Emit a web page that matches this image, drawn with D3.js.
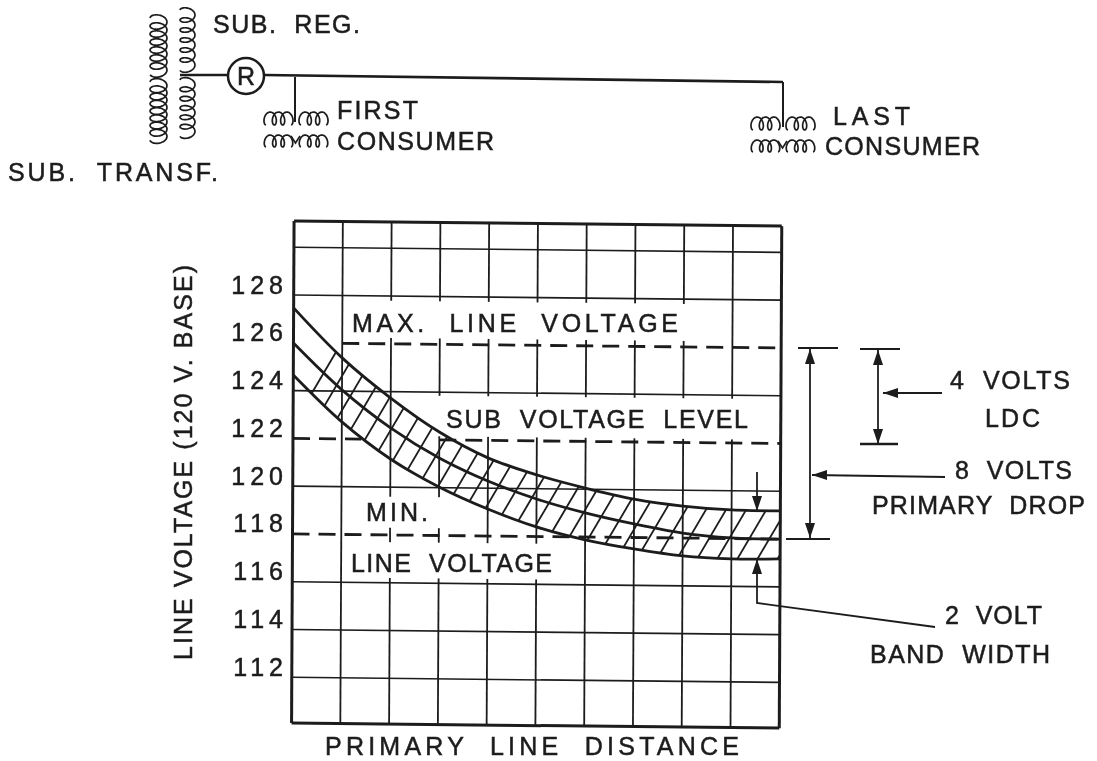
<!DOCTYPE html>
<html>
<head>
<meta charset="utf-8">
<script src="https://cdn.jsdelivr.net/npm/d3@7"></script>
<style>
  html, body { margin: 0; background: #fff; }
  svg text { font-family: "Liberation Sans", Arial, sans-serif; fill: #1c1c1c; stroke: #1c1c1c; stroke-width: 0.5; font-size: 25px; white-space: pre; }
</style>
</head>
<body>
<svg width="1097" height="761"></svg>
<script>
// Data
var distances = [0, 1, 2, 3, 4, 5, 6, 7, 8, 9, 10];
var upperBand = [127.46, 125.39, 123.73, 122.33, 121.27, 120.58, 120.05, 119.61, 119.34, 119.2, 119.18];
var subLevel = [125.99, 124.05, 122.48, 121.24, 120.3, 119.57, 119.01, 118.57, 118.21, 118.03, 118.0];
var lowerBand = [124.65, 122.71, 121.18, 120.03, 119.13, 118.4, 117.88, 117.52, 117.25, 117.15, 117.17];
var voltTicks = [128, 126, 124, 122, 120, 118, 116, 114, 112];
var solidLines = [130, 128, 124, 120, 116, 114, 112];
// volts, from distance, to distance
var dashedLines = [[126, 1, 10], [122, 0, 1.4], [122, 3, 10], [118, 0, 10]];
// the grid is left out behind the lettering: from, to, top volts, bottom volts
var labelGaps = [[1.1, 8.1, 127.8, 126.25], [2.95, 9.6, 123.85, 122.15], [1.5, 3.1, 119.6, 118.3], [1.15, 5.4, 117.7, 116.2]];

var ink = "#1c1c1c";
var svg = d3.select("svg");

// soft edge of the scan
svg.append("filter").attr("id", "soft")
  .append("feGaussianBlur").attr("stdDeviation", 0.45);
var page = svg.append("g").attr("filter", "url(#soft)");

var x = d3.scaleLinear().domain([0, 10]).range([293.7, 781.4]);
var y = d3.scaleLinear().domain([112, 128]).range([677.3, 295]);
var yTop = y.invert(221), yBottom = y.invert(723);

// The scan is slightly crooked, so the plot is sheared with it
var tiltX = -0.005, tiltY = 0.0105;
var plot = page.append("g")
  .attr("transform", "matrix(1," + tiltY + "," + tiltX + ",1," + (-tiltX * 295) + "," + (-tiltY * 293.7) + ")");

function hLine(g, v, width) {
  g.append("line")
    .attr("x1", x(0)).attr("x2", x(10))
    .attr("y1", y(v)).attr("y2", y(v))
    .attr("stroke", ink).attr("stroke-width", width);
}

// grid
solidLines.forEach(function(v) { hLine(plot, v, 1.6); });
distances.forEach(function(d) {
  var edge = d === 0 || d === 10;
  plot.append("line")
    .attr("x1", x(d)).attr("x2", x(d))
    .attr("y1", y(yTop)).attr("y2", y(yBottom))
    .attr("stroke", ink).attr("stroke-width", edge ? 3 : 1.8);
});
hLine(plot, yTop, 3);
hLine(plot, yBottom, 3);

plot.selectAll(".gap")
  .data(labelGaps)
  .enter()
  .append("rect")
    .attr("class", "gap")
    .attr("x", function(g) { return x(g[0]); })
    .attr("width", function(g) { return x(g[1]) - x(g[0]); })
    .attr("y", function(g) { return y(g[2]); })
    .attr("height", function(g) { return y(g[3]) - y(g[2]); })
    .attr("fill", "#fff");

plot.selectAll(".dash")
  .data(dashedLines)
  .enter()
  .append("line")
    .attr("class", "dash")
    .attr("x1", function(l) { return x(l[1]); })
    .attr("x2", function(l) { return x(l[2]); })
    .attr("y1", function(l) { return y(l[0]); })
    .attr("y2", function(l) { return y(l[0]); })
    .attr("stroke", ink).attr("stroke-width", 2.8)
    .attr("stroke-dasharray", "17,9");

// band between the outer curves, hatched
var rows = distances.map(function(d, i) {
  return { d: d, up: upperBand[i], low: lowerBand[i] };
});
var band = d3.area().curve(d3.curveCatmullRom)
  .x(function(r) { return x(r.d); })
  .y0(function(r) { return y(r.low); })
  .y1(function(r) { return y(r.up); });

plot.append("clipPath").attr("id", "bandClip")
  .append("path").attr("d", band(rows));

plot.append("g").attr("clip-path", "url(#bandClip)")
  .selectAll("line")
  .data(d3.range(-3, 11, 0.41))
  .enter()
  .append("line")
    .attr("x1", function(d) { return x(d); })
    .attr("x2", function(d) { return x(d) + 0.58 * (y(112) - y(128)); })
    .attr("y1", y(112)).attr("y2", y(128))
    .attr("stroke", ink).attr("stroke-width", 1.8);

[upperBand, subLevel, lowerBand].forEach(function(series) {
  var curve = d3.line().curve(d3.curveCatmullRom)
    .x(function(v, i) { return x(distances[i]); })
    .y(function(v) { return y(v); });
  plot.append("path")
    .attr("d", curve(series))
    .attr("fill", "none").attr("stroke", ink).attr("stroke-width", 2.8);
});

// tick labels
var axis = page.append("g")
  .attr("transform", "translate(288,-10)")
  .call(d3.axisLeft(y).tickValues(voltTicks).tickSize(0).tickPadding(0));
axis.select(".domain").remove();
axis.selectAll("text").attr("letter-spacing", 5).style("font-size", "25px");

// text fitted between a left and a right edge
function label(str, x0, x1, base) {
  page.append("text").text(str)
    .attr("x", x0).attr("y", base)
    .attr("textLength", x1 - x0).attr("lengthAdjust", "spacing");
}

label("PRIMARY  LINE  DISTANCE", 325, 739, 755);
page.append("text").text("LINE VOLTAGE (120 V. BASE)")
  .attr("transform", "translate(192,660) rotate(-90)")
  .attr("textLength", 395).attr("lengthAdjust", "spacing");

label("MAX.  LINE  VOLTAGE", 352, 678, 332);
label("SUB  VOLTAGE  LEVEL", 446, 748, 428);
label("MIN.", 366, 428, 521);
label("LINE  VOLTAGE", 351, 552, 572);
label("SUB.  REG.", 213, 360, 33);
label("FIRST", 337, 418, 119);
label("CONSUMER", 337, 494, 150);
label("LAST", 833, 910, 125);
label("CONSUMER", 825, 980, 155);
label("SUB.  TRANSF.", 8, 218, 181);
label("4  VOLTS", 950, 1070, 389);
label("L D C", 985, 1040, 427);
label("8  VOLTS", 955, 1072, 479);
label("PRIMARY  DROP", 872, 1085, 514);
label("2  VOLT", 945, 1042, 624);
label("BAND  WIDTH", 870, 1050, 663);

// schematic and dimension lines
function wire(points, width) {
  page.append("path")
    .attr("d", d3.line()(points))
    .attr("fill", "none").attr("stroke", ink).attr("stroke-width", width || 1.8);
}

function arrow(px, py, dir) {
  // dir: 0 up, 90 right, 180 down, 270 left; tip at px,py
  page.append("path")
    .attr("d", "M0,0L-5,15L5,15Z")
    .attr("transform", "translate(" + px + "," + py + ") rotate(" + dir + ")")
    .attr("fill", ink);
}

// looped winding; vertical or horizontal
function coil(x0, y0, length, turns, radius, vertical, width) {
  var total = turns * 2 * Math.PI;
  var pts = d3.range(0, total + 0.01, 0.2).map(function(t) {
    var along = length * t / total - radius * 0.3 * Math.sin(t);
    var across = radius * (1 - Math.cos(t)) / 2;
    return vertical ? [x0 + across, y0 + along] : [x0 + along, y0 - across];
  });
  page.append("path")
    .attr("d", d3.line().curve(d3.curveBasis)(pts))
    .attr("fill", "none").attr("stroke", ink).attr("stroke-width", width || 1.7);
}

coil(150, 18, 56, 7, 17, true);
coil(150, 82, 58, 8, 17, true);
coil(180, 10, 60, 6, 15, true);
coil(180, 80, 56, 6, 15, true);
wire([[180, 75], [228, 75]], 2.5);
page.append("circle").attr("cx", 246).attr("cy", 76).attr("r", 18)
  .attr("fill", "none").attr("stroke", ink).attr("stroke-width", 2.5);
page.append("text").text("R").attr("x", 246).attr("y", 85)
  .attr("text-anchor", "middle");
wire([[264, 75], [783, 82]], 2.6);
wire([[295, 77], [295, 122]], 2);
wire([[783, 82], [783, 127]], 2);

// service transformers below the line
[[266, 0], [753, 5]].forEach(function(c) {
  coil(c[0], 125 + c[1], 25, 3, 13, false);
  coil(c[0] + 35, 125 + c[1], 25, 3, 13, false);
  coil(c[0], 147 + c[1], 25, 3, 12, false);
  coil(c[0] + 35, 147 + c[1], 25, 3, 12, false);
  wire([[c[0] + 25, 136 + c[1]], [c[0] + 29.5, 143 + c[1]], [c[0] + 34, 136 + c[1]]], 1.6);
});

// 8 volts
wire([[798, 348], [838, 348]]);
wire([[786, 539], [830, 539]]);
wire([[810, 348], [810, 538]]);
arrow(810, 349, 0);
arrow(810, 538, 180);
wire([[812, 475], [945, 477]]);
arrow(812, 475, 270);

// 4 volts ldc
wire([[860, 349], [900, 349]]);
wire([[860, 444], [898, 444]], 2.4);
wire([[878, 349], [878, 444]]);
arrow(878, 350, 0);
arrow(878, 444, 180);
wire([[883, 393], [942, 393]]);
arrow(883, 393, 270);

// 2 volt band
wire([[757, 472], [757, 510]]);
arrow(757, 511, 180);
wire([[757, 560], [757, 603], [935, 627]]);
arrow(757, 559, 0);
</script>
</body>
</html>
